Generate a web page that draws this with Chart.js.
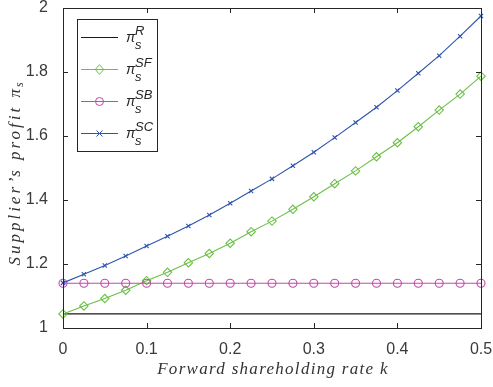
<!DOCTYPE html>
<html>
<head>
<meta charset="utf-8">
<script src="https://cdn.jsdelivr.net/npm/chart.js@4/dist/chart.umd.min.js"></script>
<style>
  html, body { margin: 0; padding: 0; background: #fff; }
  #wrap { width: 493px; height: 387px; }
</style>
</head>
<body>
<div id="wrap"><canvas id="myChart" width="493" height="387"></canvas></div>
<script>
// forward shareholding rate k
const kValues = [0, 0.025, 0.05, 0.075, 0.1, 0.125, 0.15, 0.175, 0.2, 0.225, 0.25,
  0.275, 0.3, 0.325, 0.35, 0.375, 0.4, 0.425, 0.45, 0.475, 0.5];

// supplier's profit for each case
const piR = [1.044, 1.044, 1.044, 1.044, 1.044, 1.044, 1.044, 1.044, 1.044, 1.044, 1.044,
  1.044, 1.044, 1.044, 1.044, 1.044, 1.044, 1.044, 1.044, 1.044, 1.044];
const piSF = [1.044, 1.069, 1.092, 1.118, 1.148, 1.174, 1.204, 1.233, 1.265, 1.301, 1.334,
  1.371, 1.41, 1.451, 1.491, 1.535, 1.579, 1.629, 1.681, 1.731, 1.787];
const piSB = [1.14, 1.14, 1.14, 1.14, 1.14, 1.14, 1.14, 1.14, 1.14, 1.14, 1.14,
  1.14, 1.14, 1.14, 1.14, 1.14, 1.14, 1.14, 1.14, 1.14, 1.14];
const piSC = [1.141, 1.168, 1.195, 1.225, 1.256, 1.287, 1.319, 1.353, 1.39, 1.428, 1.466,
  1.507, 1.549, 1.595, 1.642, 1.69, 1.742, 1.796, 1.851, 1.912, 1.975];

const xTicks = [0, 0.1, 0.2, 0.3, 0.4, 0.5];
const yTicks = [1, 1.2, 1.4, 1.6, 1.8, 2];

const seriesNames = ['R', 'SF', 'SB', 'SC'];

const AXIS = '#262626';
const BLACK = '#1a1a1a';
const GREEN = '#6cbf47';
const MAGENTA = '#c448a8';
const BLUE = '#2d55ad';

const toPoints = (ys) => ys.map((y, i) => ({ x: kValues[i], y: y }));

function marker(ctx, style, x, y, r) {
  ctx.beginPath();
  if (style === 'rectRot') {
    ctx.moveTo(x, y - r * 1.15);
    ctx.lineTo(x + r, y);
    ctx.lineTo(x, y + r * 1.15);
    ctx.lineTo(x - r, y);
    ctx.closePath();
  } else if (style === 'circle') {
    ctx.arc(x, y, r, 0, Math.PI * 2);
  } else if (style === 'crossRot') {
    ctx.moveTo(x - r, y - r); ctx.lineTo(x + r, y + r);
    ctx.moveTo(x + r, y - r); ctx.lineTo(x - r, y + r);
  }
  ctx.stroke();
}

// frame, inward ticks, axis titles and the legend
const framePlugin = {
  id: 'frame',
  afterDraw(chart) {
    const { ctx, chartArea: a, scales } = chart;
    ctx.save();
    ctx.strokeStyle = AXIS;
    ctx.lineWidth = 1;
    ctx.strokeRect(a.left + 0.5, a.top + 0.5, a.right - a.left, a.bottom - a.top);
    ctx.beginPath();
    xTicks.forEach(v => {
      const px = Math.round(scales.x.getPixelForValue(v)) + 0.5;
      ctx.moveTo(px, a.bottom); ctx.lineTo(px, a.bottom - 5);
      ctx.moveTo(px, a.top); ctx.lineTo(px, a.top + 5);
    });
    yTicks.forEach(v => {
      const py = Math.round(scales.y.getPixelForValue(v)) + 0.5;
      ctx.moveTo(a.left, py); ctx.lineTo(a.left + 5, py);
      ctx.moveTo(a.right, py); ctx.lineTo(a.right - 5, py);
    });
    ctx.stroke();

    // axis titles
    ctx.fillStyle = '#333';
    ctx.font = 'italic 17px "Liberation Serif"';
    ctx.textAlign = 'center';
    ctx.textBaseline = 'alphabetic';
    ctx.letterSpacing = '1.3px';
    ctx.fillText('Forward shareholding rate k', (a.left + a.right) / 2 + 1, 374);

    ctx.save();
    ctx.translate(20, (a.top + a.bottom) / 2 + 4);
    ctx.rotate(-Math.PI / 2);
    const main = 'Supplier\u2019s profit \u03c0';
    ctx.letterSpacing = '3px';
    ctx.font = 'italic 17px "Liberation Serif"';
    const w1 = ctx.measureText(main).width;
    ctx.font = 'italic 12px "Liberation Serif"';
    const w2 = ctx.measureText('s').width;
    const start = -(w1 + w2) / 2;
    ctx.textAlign = 'left';
    ctx.font = 'italic 17px "Liberation Serif"';
    ctx.fillText(main, start, 0);
    ctx.font = 'italic 12px "Liberation Serif"';
    ctx.fillText('s', start + w1 - 1, 3);
    ctx.restore();
    ctx.letterSpacing = '0px';

    // legend
    const lx = 77, ly = 19, lw = 80, lh = 132;
    ctx.fillStyle = '#fff';
    ctx.fillRect(lx, ly, lw, lh);
    ctx.strokeStyle = AXIS;
    ctx.strokeRect(lx + 0.5, ly + 0.5, lw, lh);
    chart.data.datasets.forEach((ds, i) => {
      const cy = 37 + i * 32;
      ctx.strokeStyle = ds.borderColor;
      ctx.lineWidth = 1;
      ctx.beginPath();
      ctx.moveTo(81, cy + 0.5); ctx.lineTo(118, cy + 0.5);
      ctx.stroke();
      if (ds.pointRadius > 0) marker(ctx, ds.pointStyle, 99.5, cy + 0.5, ds.pointRadius);
      ctx.fillStyle = '#262626';
      ctx.textAlign = 'left';
      ctx.font = 'italic 14px "Liberation Sans"';
      ctx.fillText('\u03c0', 126, cy + 5);
      ctx.font = 'italic 13px "Liberation Sans"';
      ctx.fillText(seriesNames[i], 135, cy - 2);
      ctx.fillText('s', 135, cy + 12);
    });
    ctx.restore();
  }
};

function lineSet(data, color, style, radius, order) {
  return {
    data: toPoints(data),
    borderColor: color,
    backgroundColor: 'rgba(0,0,0,0)',
    borderWidth: 1.1,
    pointStyle: style,
    pointRadius: radius,
    pointBorderColor: color,
    pointBackgroundColor: 'rgba(0,0,0,0)',
    pointBorderWidth: 1.1,
    pointHoverRadius: radius,
    tension: 0,
    clip: false,
    order: order
  };
}

new Chart(document.getElementById('myChart').getContext('2d'), {
  type: 'line',
  data: {
    datasets: [
      lineSet(piR, BLACK, 'circle', 0, 4),
      lineSet(piSF, GREEN, 'rectRot', 4.2, 3),
      lineSet(piSB, MAGENTA, 'circle', 4, 2),
      lineSet(piSC, BLUE, 'crossRot', 3, 1)
    ]
  },
  options: {
    responsive: false,
    animation: false,
    events: [],
    layout: { padding: { top: 8, right: 12, left: 0, bottom: 0 } },
    plugins: { legend: { display: false }, tooltip: { enabled: false } },
    scales: {
      x: {
        type: 'linear',
        min: 0, max: 0.5,
        grid: { display: false },
        border: { display: false },
        afterBuildTicks: (s) => { s.ticks = xTicks.map(v => ({ value: v })); },
        afterFit: (s) => { s.height = 59; s.paddingLeft = 0; s.paddingRight = 0; },
        ticks: {
          color: '#3a3a3a',
          font: { family: '"Liberation Sans"', size: 16 },
          padding: 4,
          maxRotation: 0,
          callback: (v) => String(v)
        }
      },
      y: {
        type: 'linear',
        min: 1, max: 2,
        grid: { display: false },
        border: { display: false },
        afterBuildTicks: (s) => { s.ticks = yTicks.map(v => ({ value: v })); },
        afterFit: (s) => { s.width = 63; s.paddingTop = 0; s.paddingBottom = 0; },
        ticks: {
          color: '#3a3a3a',
          font: { family: '"Liberation Sans"', size: 16 },
          padding: 7,
          callback: (v) => String(Math.round(v * 10) / 10)
        }
      }
    }
  },
  plugins: [framePlugin]
});
</script>
</body>
</html>
